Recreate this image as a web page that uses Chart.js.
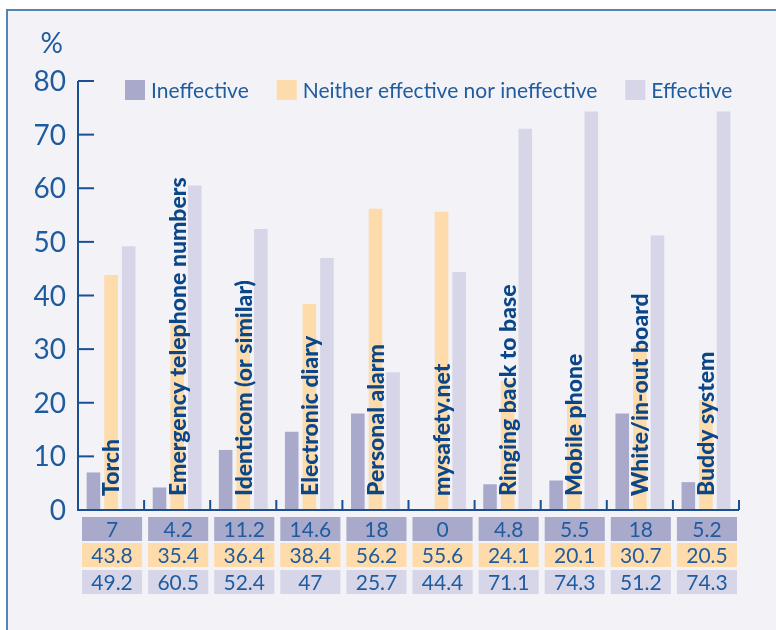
<!DOCTYPE html>
<html>
<head>
<meta charset="utf-8">
<script src="https://cdn.jsdelivr.net/npm/chart.js@4"></script>
<style>
html, body { margin: 0; padding: 0; background: #fff; }
#frame {
    position: absolute; left: 6px; top: 9px; width: 780px; height: 630px;
    background: #f2f2f7;
    border-top: 2px solid #5583b5;
    border-left: 2px solid #5583b5;
}
#wrap { position: absolute; left: 0; top: 0; width: 776px; height: 630px; }
</style>
</head>
<body>
<div id="frame"></div>
<div id="wrap"><canvas id="chart" width="776" height="630"></canvas></div>
<script>
// data
const categories = [
    'Torch', 'Emergency telephone numbers', 'Identicom (or similar)', 'Electronic diary',
    'Personal alarm', 'mysafety.net', 'Ringing back to base', 'Mobile phone',
    'White/in-out board', 'Buddy system'
];
const seriesNames = ['Ineffective', 'Neither effective nor ineffective', 'Effective'];
const ineffective = [7, 4.2, 11.2, 14.6, 18, 0, 4.8, 5.5, 18, 5.2];
const neither     = [43.8, 35.4, 36.4, 38.4, 56.2, 55.6, 24.1, 20.1, 30.7, 20.5];
const effective   = [49.2, 60.5, 52.4, 47, 25.7, 44.4, 71.1, 74.3, 51.2, 74.3];
const yTicks = [0, 10, 20, 30, 40, 50, 60, 70, 80];
const yUnit = '%';

const colors = ['#a9aacb', '#fddbab', '#d6d6e8'];
const axisColor = '#1b4f91';
const textColor = '#1f5b9f';
const labelColor = '#0b4688';
const FONT = 'Lato, "Open Sans", sans-serif';

// ==============================
// CUSTOM DRAWING (axes, labels, legend, table)
// ==============================
const decorPlugin = {
    id: 'decor',
    afterDatasetsDraw(chart) {
        const ctx = chart.ctx;
        const x = chart.scales.x;
        const y = chart.scales.y;
        const area = chart.chartArea;
        const catW = x.getPixelForValue(1) - x.getPixelForValue(0);
        const y0 = y.getPixelForValue(0);

        ctx.save();

        // axis lines
        ctx.strokeStyle = axisColor;
        ctx.lineWidth = 2;
        ctx.beginPath();
        ctx.moveTo(area.left, y.getPixelForValue(yTicks[yTicks.length - 1]));
        ctx.lineTo(area.left, y0);
        ctx.lineTo(area.right, y0);
        ctx.stroke();

        // y ticks (pointing inward) + labels
        ctx.fillStyle = textColor;
        ctx.font = '28px ' + FONT;
        ctx.textAlign = 'right';
        ctx.textBaseline = 'middle';
        yTicks.forEach(v => {
            const py = y.getPixelForValue(v);
            ctx.beginPath();
            ctx.moveTo(area.left, py);
            ctx.lineTo(area.left + 16, py);
            ctx.stroke();
            ctx.fillText(String(v), area.left - 12, py + 1);
        });
        ctx.fillText(yUnit, area.left - 15, y.getPixelForValue(80) - 37);

        // x ticks at category boundaries
        for (let i = 1; i <= categories.length; i++) {
            const px = x.getPixelForValue(i) - catW / 2;
            ctx.beginPath();
            ctx.moveTo(px, y0);
            ctx.lineTo(px, y0 - 10);
            ctx.stroke();
        }

        // category labels, rotated inside the plot
        ctx.fillStyle = labelColor;
        ctx.font = '900 23px ' + FONT;
        ctx.textAlign = 'left';
        ctx.textBaseline = 'middle';
        categories.forEach((c, i) => {
            ctx.save();
            ctx.translate(x.getPixelForValue(i) + 1, y0 - 14);
            ctx.rotate(-Math.PI / 2);
            ctx.fillText(c, 0, 0);
            ctx.restore();
        });

        // legend
        ctx.font = '21px ' + FONT;
        ctx.textBaseline = 'middle';
        let lx = 125;
        const ly = 90;
        chart.data.datasets.forEach(ds => {
            ctx.fillStyle = ds.backgroundColor;
            ctx.fillRect(lx, ly - 10, 20, 20);
            ctx.fillStyle = textColor;
            ctx.fillText(ds.label, lx + 26, ly + 1);
            lx += 26 + ctx.measureText(ds.label).width + 28;
        });

        // data table
        const rows = [ineffective, neither, effective];
        const rowTop = [y0 + 7, y0 + 33, y0 + 60];
        ctx.font = '21px ' + FONT;
        ctx.textAlign = 'center';
        rows.forEach((vals, r) => {
            vals.forEach((v, i) => {
                const start = x.getPixelForValue(i) - catW / 2;
                ctx.fillStyle = colors[r];
                ctx.fillRect(start + 4, rowTop[r], catW - 6, 24);
                ctx.fillStyle = textColor;
                ctx.fillText(String(v), start + 4 + (catW - 6) / 2, rowTop[r] + 13);
            });
        });

        ctx.restore();
    }
};

new Chart(document.getElementById('chart'), {
    type: 'bar',
    data: {
        labels: categories,
        datasets: [
            { label: seriesNames[0], data: ineffective, backgroundColor: colors[0] },
            { label: seriesNames[1], data: neither, backgroundColor: colors[1] },
            { label: seriesNames[2], data: effective, backgroundColor: colors[2] }
        ]
    },
    options: {
        responsive: false,
        animation: false,
        layout: { padding: { left: 78, top: 81, right: 37, bottom: 120 } },
        datasets: { bar: { categoryPercentage: 0.8, barPercentage: 0.77 } },
        plugins: { legend: { display: false }, tooltip: { enabled: false } },
        scales: {
            x: { display: false, offset: true },
            y: { display: false, min: 0, max: 80 }
        }
    },
    plugins: [decorPlugin]
});
</script>
</body>
</html>
